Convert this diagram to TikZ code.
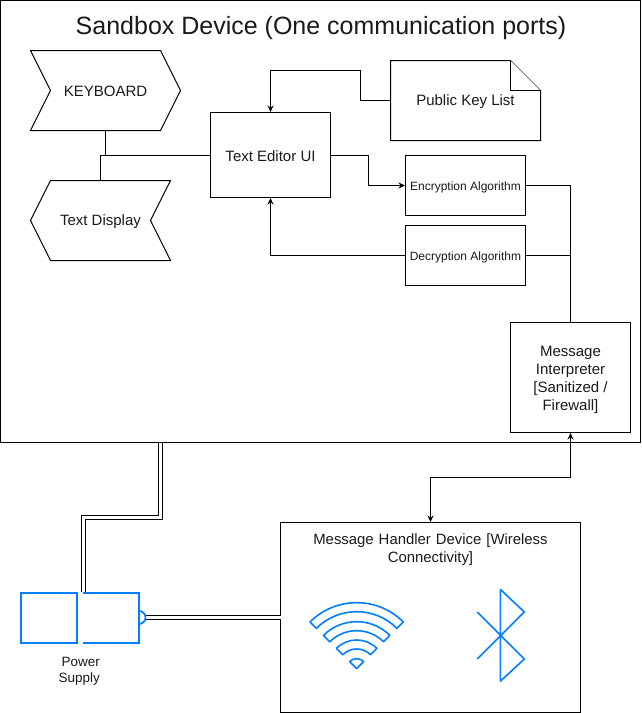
\documentclass[tikz,border=0pt]{standalone}
\usepackage{fontspec}
\setmainfont{Liberation Sans}
\usetikzlibrary{arrows.meta,calc}
\definecolor{iconblue}{HTML}{007FFF}
\definecolor{inktext}{HTML}{1A1A1A}
\newcommand{\fsz}[2]{\fontsize{#1pt}{#2pt}\selectfont}
\newcommand{\low}[2]{\raisebox{-#1pt}[\height][\depth]{#2}}
\tikzset{
  x=1pt,y=-1pt,
  line/.style={draw=black,line width=1pt},
  boxnode/.style={line,fill=white,rectangle,inner sep=0pt,align=center,text=inktext,font=\fsz{15}{18}},
  shapetext/.style={rectangle,inner sep=0pt,align=center,text=inktext,font=\fsz{15}{18}},
  link/.style={line,line join=miter},
  arrowlink/.style={link,-{Stealth[length=6.5pt,width=6pt]}},
  bothlink/.style={link,{Stealth[length=6.5pt,width=6pt]}-{Stealth[length=6.5pt,width=6pt]}},
  twinlink/.style={draw=black,line width=1pt,double=white,double distance=2.7pt,line join=miter},
  icon/.style={draw=iconblue,line width=2pt,line join=miter},
  iconthin/.style={draw=iconblue,line width=1.6pt,line join=bevel},
}
\begin{document}
\begin{tikzpicture}
\useasboundingbox (0,0) rectangle (641,713);
\fill[white] (0,0) rectangle (641,713);
% frames
\node[boxnode,minimum width=639.5pt,minimum height=442pt] (sandbox) at (320.25,221.5) {};
\node[shapetext,font=\fsz{25}{30}] (title) at (321,28) {Sandbox Device (One communication ports)};
% shapes
\draw[line,fill=white] (30.5,50.5) -- (160.5,50.5) -- (180.5,90.5) -- (160.5,130.5) -- (30.5,130.5) -- (50.5,90.5) -- cycle;
\node[shapetext,minimum width=150pt,minimum height=80pt] (kb) at (105.5,90.5) {\low{1}{KEYBOARD}};
\draw[line,fill=white] (50.5,180.5) -- (170.5,180.5) -- (150.5,220.5) -- (170.5,260.5) -- (50.5,260.5) -- (30.5,220.5) -- cycle;
\node[shapetext,minimum width=140pt,minimum height=80pt] (disp) at (100.5,220.5) {\low{1.5}{Text Display}};
\node[boxnode,minimum width=120pt,minimum height=85pt] (editor) at (270.5,155) {\low{1}{Text Editor UI}};
\draw[line,fill=white] (390.5,60.5) -- (510.5,60.5) -- (540.5,90.5) -- (540.5,140.5) -- (390.5,140.5) -- cycle;
\draw[line,fill=white] (510.5,60.5) -- (510.5,90.5) -- (540.5,90.5);
\node[shapetext,minimum width=150pt,minimum height=80pt] (keys) at (465.5,100.5) {\low{1}{Public Key List}};
\node[boxnode,minimum width=120pt,minimum height=60pt,font=\fsz{12}{14}] (enc) at (465.5,185.5) {\low{1.5}{Encryption Algorithm}};
\node[boxnode,minimum width=120pt,minimum height=60pt,font=\fsz{12}{14}] (dec) at (465.5,255.5) {\low{1.5}{Decryption Algorithm}};
\node[boxnode,minimum width=120pt,minimum height=110pt] (interp) at (570.5,377.5) {};
\node[shapetext] (interptext) at (570.5,379.5) {Message\\Interpreter\\{[Sanitized /}\\Firewall]};
\node[boxnode,minimum width=300pt,minimum height=190pt] (handler) at (430.5,617.5) {};
\node[shapetext,text width=290pt,font=\fsz{14.9}{18}] (handlertext) at (430.5,550) {Message Handler Device [Wireless\\Connectivity]};
% connectors
\draw[link] (kb.south) -- (kb.south |- editor.west);
\draw[link] (disp.north) -- (disp.north |- editor.west) -- (editor.west);
\draw[arrowlink] (keys.west) -- (360.5,100.5) -- (360.5,70.5) -- (270.5,70.5) -- (editor.north);
\draw[arrowlink] (editor.east) -- (368.5,155) -- (368.5,185.5) -- (enc.west);
\draw[arrowlink] (dec.west) -- (editor.south |- dec.west) -- (editor.south);
\draw[link] (enc.east) -- (570.5,185.5) -- (interp.north);
\draw[link] (dec.east) -- (570.5,255.5);
\draw[bothlink] (interp.south) -- (570.5,477.5) -- (430.5,477.5) -- (handler.north);
% power supply
\node[rectangle,draw=iconblue,line width=2pt,fill=white,inner sep=0pt,minimum width=56pt,minimum height=50pt] (psleft) at (48.5,617.5) {};
\coordinate (pstop) at (83.5,592);
\coordinate (sandboxout) at (160.5,442.5);
\coordinate (handlerin) at (280.5,617.3);
\coordinate (psplug) at (146,617.3);
\draw[twinlink] (sandboxout) -- (160.5,517.5) -- (83.5,517.5) -- (pstop);
\draw[twinlink] (psplug) -- (handlerin);
\draw[icon] (83,592.5) -- (139,592.5) -- (139,642.5) -- (83,642.5);
\begin{scope}[shift={(139,617.5)},x=1pt,y=1pt]
  \draw[icon,line width=1.7pt] (0,6.5) arc[start angle=90,end angle=-90,radius=6.5];
\end{scope}
\node[shapetext,font=\fsz{13.5}{16},align=right,anchor=north east] (pslabel) at (100,657.5) {Power\\Supply};
% wifi icon
\begin{scope}[shift={(356.67,668.67)},x=1pt,y=1pt]
  \draw[iconthin] (45:66) arc[start angle=45,end angle=135,radius=66] -- (135:57) arc[start angle=135,end angle=45,radius=57] -- cycle;
  \draw[iconthin] (45:47) arc[start angle=45,end angle=135,radius=47] -- (135:38) arc[start angle=135,end angle=45,radius=38] -- cycle;
  \draw[iconthin] (45:28.7) arc[start angle=45,end angle=135,radius=28.7] -- (135:19.7) arc[start angle=135,end angle=45,radius=19.7] -- cycle;
  \draw[iconthin] (45:10) arc[start angle=45,end angle=135,radius=10] -- (0,0) -- cycle;
\end{scope}
% bluetooth icon
\draw[iconthin] (477.3,612) -- (524.3,659) -- (500.3,681.3) -- (500.3,589.3) -- (524.3,612) -- (477.3,659);
\end{tikzpicture}
\end{document}
